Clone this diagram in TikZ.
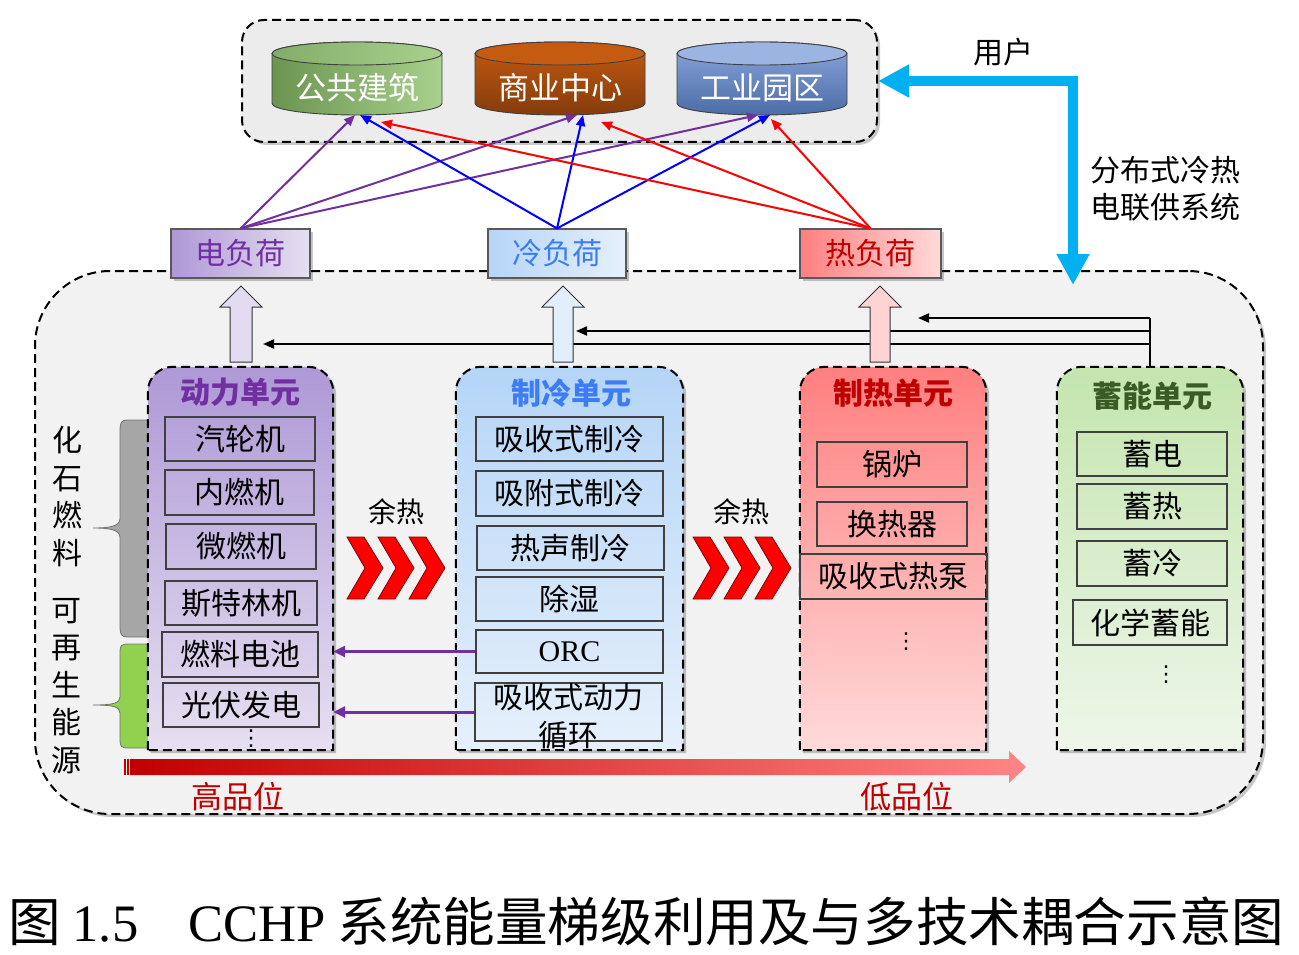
\documentclass[tikz,border=0pt]{standalone}
\usepackage{fontspec}
\setmainfont{Noto Sans CJK SC}
\newfontfamily\latfont{Liberation Serif}
\newfontfamily\symfont{DejaVu Sans}
\usetikzlibrary{arrows.meta,shadows}

\definecolor{userbg}{HTML}{ECECEC}
\definecolor{sysbg}{HTML}{F2F2F2}
\definecolor{pur}{HTML}{7030A0}
\definecolor{coolblue}{HTML}{3D7CF5}
\definecolor{darkred}{HTML}{C00000}
\definecolor{darkgreen}{HTML}{3B5B26}
\definecolor{skyblue}{HTML}{00B0F0}
\definecolor{puTop}{HTML}{AE98D6}
\definecolor{puBot}{HTML}{E6E0F1}
\definecolor{cuTop}{HTML}{B5D5F7}
\definecolor{cuBot}{HTML}{E6F0FB}
\definecolor{huTop}{HTML}{FF7F7F}
\definecolor{huBot}{HTML}{FFDADA}
\definecolor{suTop}{HTML}{C4E5AE}
\definecolor{suBot}{HTML}{EEF6EA}
\definecolor{fossil}{HTML}{A6A6A6}
\definecolor{renew}{HTML}{92D050}
\definecolor{gnL}{HTML}{6A9450}
\definecolor{gnR}{HTML}{A9D18E}
\definecolor{orT}{HTML}{C55A11}
\definecolor{orB}{HTML}{843C0C}
\definecolor{blT}{HTML}{8AA7DC}
\definecolor{blB}{HTML}{4C6CA6}
\definecolor{puEdge}{HTML}{E3DBF0}
\definecolor{puMid}{HTML}{A993D2}
\definecolor{cuEdge}{HTML}{E3EEFB}
\definecolor{cuMid}{HTML}{B1D3F7}
\definecolor{huEdge}{HTML}{FFD3D3}
\definecolor{huMid}{HTML}{FF8080}
\definecolor{gradL}{HTML}{C00000}
\definecolor{gradR}{HTML}{FF8585}

% unit container: rounded top corners, square bottom
\newcommand{\unitshape}[2]{%
  \path[#2] (#1.south west) -- ([yshift=-25pt]#1.north west)
    arc[start angle=180,end angle=90,radius=25pt]
    -- ([xshift=-25pt]#1.north east)
    arc[start angle=90,end angle=0,radius=25pt]
    -- (#1.south east) -- cycle;}

\begin{document}
\begin{tikzpicture}[x=1pt,y=-1pt,
  dashbox/.style={draw=black, line width=2pt, dash pattern=on 9pt off 5pt},
  softshadow/.style={drop shadow={shadow xshift=3pt, shadow yshift=-3pt, opacity=0.22, fill=black}},
  itembox/.style={draw=black!75, line width=1.2pt, inner sep=0pt, font=\fontsize{30}{30}\selectfont},
  unitnode/.style={inner sep=0pt, minimum height=383pt},
  unittitle/.style={font=\bfseries\fontsize{30}{30}\selectfont},
  loadbox/.style={draw=black!65, line width=1.2pt, inner sep=0pt, minimum height=49pt, font=\fontsize{30}{30}\selectfont, softshadow},
  cylnode/.style={inner sep=0pt, outer sep=0pt, minimum width=170pt, minimum height=73pt},
  cylborder/.style={draw=black!75, line width=0.9pt},
  cyltext/.style={text=white, font=\fontsize{31}{31}\selectfont},
  ulink/.style={line width=2pt, -{Triangle[length=11pt,width=9pt]}},
  blk/.style={line width=2pt, draw=black},
  blkarrow/.style={line width=2pt, draw=black, -{Triangle[length=11pt,width=9pt]}},
  purarrow/.style={line width=3pt, draw=pur, -{Triangle[length=12pt,width=11pt]}},
  blockarrow/.style={draw=black!80, line width=1pt},
  chev/.style={fill=red, draw=black!50!red, line width=0.8pt},
  lbl/.style={font=\fontsize{30}{30}\selectfont},
  vlbl/.style={font=\fontsize{30}{37.5}\selectfont, align=center},
  dotsnode/.style={inner sep=0pt, font=\symfont\fontsize{22}{22}\selectfont}
]
\useasboundingbox (0,0) rectangle (1299,955);

% ---------- outer frames ----------
\node[dashbox, fill=userbg, rounded corners=22pt, minimum width=635pt, minimum height=122pt, softshadow] (user) at (559.5,81) {};
\node[dashbox, fill=sysbg, rounded corners=75pt, minimum width=1228pt, minimum height=543pt, softshadow] (sys) at (649,542.5) {};

% ---------- consumer cylinders ----------
\node[cylnode] (pub) at (357,78.5) {};
\path[cylborder, left color=gnL, right color=gnR] (272,53.5) -- (272,103.5)
  arc[start angle=180,end angle=360,x radius=85pt,y radius=11.5pt] -- (442,53.5)
  arc[start angle=0,end angle=180,x radius=85pt,y radius=11.5pt] -- cycle;
\path[cylborder, left color=gnL!60!gnR, right color=gnR] (357,53.5) ellipse[x radius=85pt, y radius=11.5pt];
\node[cyltext] (pubt) at (357,88) {公共建筑};

\node[cylnode] (com) at (560,78.5) {};
\path[cylborder, top color=orT, bottom color=orB] (475,53.5) -- (475,103.5)
  arc[start angle=180,end angle=360,x radius=85pt,y radius=11.5pt] -- (645,53.5)
  arc[start angle=0,end angle=180,x radius=85pt,y radius=11.5pt] -- cycle;
\path[cylborder, fill=orT] (560,53.5) ellipse[x radius=85pt, y radius=11.5pt];
\node[cyltext] (comt) at (560,88) {商业中心};

\node[cylnode] (ind) at (762,78.5) {};
\path[cylborder, top color=blT, bottom color=blB] (677,53.5) -- (677,103.5)
  arc[start angle=180,end angle=360,x radius=85pt,y radius=11.5pt] -- (847,53.5)
  arc[start angle=0,end angle=180,x radius=85pt,y radius=11.5pt] -- cycle;
\path[cylborder, fill=blT!85!white] (762,53.5) ellipse[x radius=85pt, y radius=11.5pt];
\node[cyltext] (indt) at (762,88) {工业园区};

% ---------- energy source braces ----------
\path[draw=black!55, line width=0.8pt, fill=fossil] (150,420) -- (128,420)
  .. controls (121,420) and (120,423) .. (120,430) -- (120,518)
  .. controls (120,525) and (114,528) .. (93,528)
  .. controls (114,528) and (120,531) .. (120,538) -- (120,627)
  .. controls (120,634) and (121,637) .. (128,637) -- (150,637);
\path[draw=black!55, line width=0.8pt, fill=renew] (150,644) -- (128,644)
  .. controls (121,644) and (120,646) .. (120,652) -- (120,697)
  .. controls (120,703) and (114,705) .. (93,705)
  .. controls (114,705) and (120,707) .. (120,713) -- (120,740)
  .. controls (120,746) and (121,748) .. (128,748) -- (150,748);
\node[vlbl] (fos) at (67,496.5) {化\\石\\燃\\料};
\node[vlbl] (ren) at (66,686) {可\\再\\生\\能\\源};

% ---------- unit containers ----------
\node[unitnode, minimum width=185pt] (pu) at (240.5,558.5) {};
\node[unitnode, minimum width=227pt] (cu) at (569.5,558.5) {};
\node[unitnode, minimum width=186pt] (hu) at (893,558.5) {};
\node[unitnode, minimum width=186pt] (su) at (1150,558.5) {};
\unitshape{pu}{dashbox, top color=puTop, bottom color=puBot, softshadow}
\unitshape{cu}{dashbox, top color=cuTop, bottom color=cuBot, softshadow}
\unitshape{hu}{dashbox, top color=huTop, bottom color=huBot, softshadow}
\unitshape{su}{dashbox, top color=suTop, bottom color=suBot, softshadow}

\node[unittitle, text=pur] (put) at (240,392) {动力单元};
\node[unittitle, text=coolblue] (cut) at (571,393) {制冷单元};
\node[unittitle, text=darkred] (hut) at (893,393) {制热单元};
\node[unittitle, text=darkgreen] (sut) at (1152,396) {蓄能单元};

% power unit items
\node[itembox, minimum width=150pt, minimum height=44pt] (p1) at (240,439) {汽轮机};
\node[itembox, minimum width=149pt, minimum height=45pt] (p2) at (239.5,492.5) {内燃机};
\node[itembox, minimum width=150pt, minimum height=45pt] (p3) at (241,546.5) {微燃机};
\node[itembox, minimum width=152pt, minimum height=44pt] (p4) at (241,603) {斯特林机};
\node[itembox, minimum width=156pt, minimum height=45pt] (p5) at (240,654.5) {燃料电池};
\node[itembox, minimum width=156pt, minimum height=44pt] (p6) at (241,705) {光伏发电};
\node[dotsnode] (pdots) at (251,739) {⋮};

% cooling unit items
\node[itembox, minimum width=187pt, minimum height=44pt] (c1) at (569.5,439) {吸收式制冷};
\node[itembox, minimum width=187pt, minimum height=45pt] (c2) at (569.5,493.5) {吸附式制冷};
\node[itembox, minimum width=187pt, minimum height=44pt] (c3) at (570.5,548) {热声制冷};
\node[itembox, minimum width=187pt, minimum height=44pt] (c4) at (569.5,599) {除湿};
\node[itembox, minimum width=187pt, minimum height=43pt] (c5) at (569.5,651.5) {\latfont ORC};
\node[itembox, minimum width=187pt, minimum height=58pt] (c6) at (568.5,712) {};
\node[vlbl, font=\fontsize{30}{38}\selectfont] (c6t) at (568.5,716) {吸收式动力\\循环};

% heating unit items
\node[itembox, minimum width=150pt, minimum height=45pt] (h1) at (892,464.5) {锅炉};
\node[itembox, minimum width=150pt, minimum height=44pt] (h2) at (892,524) {换热器};
\node[itembox, minimum width=187pt, minimum height=45pt] (h3) at (893.5,576.5) {吸收式热泵};
\node[dotsnode] (hdots) at (906,642) {⋮};

% storage unit items
\node[itembox, minimum width=150pt, minimum height=44pt] (s1) at (1152,454) {蓄电};
\node[itembox, minimum width=150pt, minimum height=45pt] (s2) at (1152,506.5) {蓄热};
\node[itembox, minimum width=150pt, minimum height=45pt] (s3) at (1152,563.5) {蓄冷};
\node[itembox, minimum width=154pt, minimum height=45pt] (s4) at (1150,622.5) {化学蓄能};
\node[dotsnode] (sdots) at (1166,675) {⋮};

% ---------- storage feed lines ----------
\coordinate (e1) at (918,318);
\coordinate (e2) at (576,331);
\coordinate (e3) at (263,344);
\draw[blk] (su.north) -- (su.north |- e1);
\draw[blkarrow] (su.north |- e1) -- (e1);
\draw[blkarrow] (su.north |- e2) -- (e2);
\draw[blkarrow] (su.north |- e3) -- (e3);

% ---------- block arrows from units to loads ----------
\path[blockarrow, left color=puEdge, middle color=puMid, right color=puEdge]
  (230,362) -- (230,307) -- (220,307) -- (241,286) -- (262,307) -- (252,307) -- (252,362) -- cycle;
\path[blockarrow, left color=cuEdge, middle color=cuMid, right color=cuEdge]
  (553,362) -- (553,307) -- (542,307) -- (563,286) -- (584,307) -- (573,307) -- (573,362) -- cycle;
\path[blockarrow, left color=huEdge, middle color=huMid, right color=huEdge]
  (870,362) -- (870,307) -- (859,307) -- (880,286) -- (901,307) -- (890,307) -- (890,362) -- cycle;

% ---------- load boxes ----------
\node[loadbox, minimum width=139pt, left color=puTop, right color=puBot, text=pur] (eload) at (240.5,253.5) {电负荷};
\node[loadbox, minimum width=138pt, left color=cuTop, right color=cuBot, text=coolblue] (cload) at (557,253.5) {冷负荷};
\node[loadbox, minimum width=141pt, left color=huTop, right color=huBot, text=darkred] (hload) at (870.5,253.5) {热负荷};

% ---------- load to consumer links ----------
\draw[ulink, draw=pur] (eload.north) -- ([xshift=-2pt]pub.south);
\draw[ulink, draw=pur] (eload.north) -- ([xshift=17pt]com.south);
\draw[ulink, draw=pur] (eload.north) -- ([xshift=-4pt]ind.south);
\draw[ulink, draw=blue] (cload.north) -- ([xshift=3pt]pub.south);
\draw[ulink, draw=blue] (cload.north) -- ([xshift=23pt]com.south);
\draw[ulink, draw=blue] (cload.north) -- ([xshift=8pt]ind.south);
\draw[ulink, draw=red] (hload.north) -- ([xshift=24pt,yshift=-7pt]pub.south);
\draw[ulink, draw=red] (hload.north) -- ([xshift=41pt,yshift=-7pt]com.south);
\draw[ulink, draw=red] (hload.north) -- ([xshift=9pt,yshift=-4pt]ind.south);

% ---------- CCHP system <-> users ----------
\coordinate (sysin) at (1073,285);
\draw[line width=10pt, draw=skyblue, {Triangle[length=31pt,width=31pt]}-{Triangle[length=31pt,width=31pt]}]
  (user.east) -- (sysin |- user.east) -- (sysin);
\node[lbl] (usr) at (1003,52) {用户};
\node[vlbl, font=\fontsize{30}{37}\selectfont] (cchp) at (1165,189) {分布式冷热\\电联供系统};

% ---------- waste heat cascades ----------
\node[lbl, font=\fontsize{28}{28}\selectfont] (wh1) at (396,512) {余热};
\node[lbl, font=\fontsize{28}{28}\selectfont] (wh2) at (741,512) {余热};
\foreach \x in {347,378,409,693,724,755}
  \path[chev] (\x,537) -- ++(17,0) -- ++(19,31) -- ++(-19,31) -- ++(-17,0) -- ++(18,-31) -- cycle;

% ---------- recovered power feeds ----------
\draw[purarrow] (c5.west) -- (pu.east |- c5.west);
\draw[purarrow] (c6.west) -- (pu.east |- c6.west);

% ---------- energy grade arrow ----------
\fill[gradL] (124,759) rectangle (125.5,775);
\fill[gradL] (127,759) rectangle (128.5,775);
\shade[left color=gradL, middle color=red, right color=gradR]
  (130,759) -- (1009,759) -- (1009,751) -- (1026,767) -- (1009,783) -- (1009,775) -- (130,775) -- cycle;
\node[lbl, text=darkred, font=\fontsize{31}{31}\selectfont] (hi) at (238,797) {高品位};
\node[lbl, text=darkred, font=\fontsize{31}{31}\selectfont] (lo) at (907,797) {低品位};

% ---------- caption ----------
\node[anchor=west, inner sep=0pt, font=\fontsize{52.6}{53}\selectfont] (cap) at (8,921)
  {图 {\latfont 1.5}\hspace{50pt}{\latfont CCHP} 系统能量梯级利用及与多技术耦合示意图};
\end{tikzpicture}
\end{document}
